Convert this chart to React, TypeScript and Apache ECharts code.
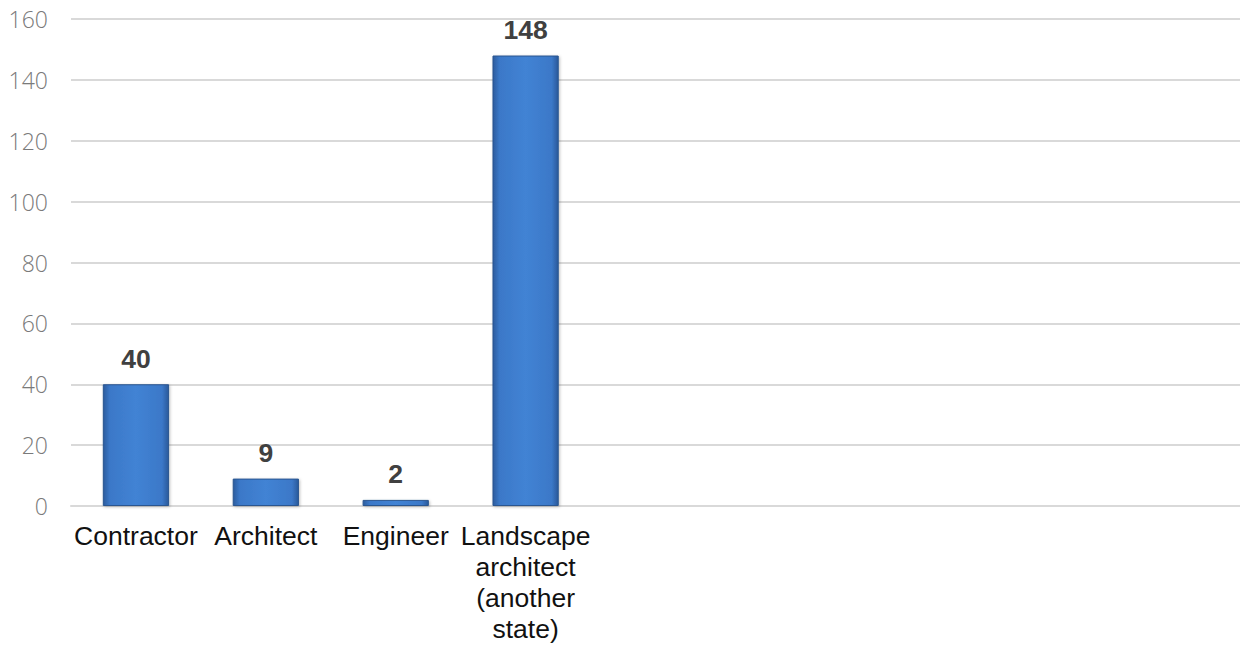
import React, { useEffect, useRef } from "react";
import * as echarts from "echarts";

// Nine category slots; only the first four carry values.
const categories: string[] = [
  "Contractor",
  "Architect",
  "Engineer",
  "Landscape\narchitect\n(another\nstate)",
  "",
  "",
  "",
  "",
  "",
];
const counts: (number | null)[] = [40, 9, 2, 148, null, null, null, null, null];
const yTicks = { min: 0, max: 160, interval: 20 };

export default function App() {
  const ref = useRef<HTMLDivElement>(null);

  useEffect(() => {
    if (!ref.current) return;
    const chart = echarts.init(ref.current, undefined, { renderer: "svg" });

    const barFill = new echarts.graphic.LinearGradient(0, 0, 1, 0, [
      { offset: 0, color: "#2c5c9e" },
      { offset: 0.1, color: "#3b78c8" },
      { offset: 0.5, color: "#4283d4" },
      { offset: 0.9, color: "#3b78c8" },
      { offset: 1, color: "#2a599a" },
    ]);

    chart.setOption({
      animation: false,
      grid: { left: 71, right: 0, top: 19, bottom: 141, containLabel: false },
      xAxis: {
        type: "category",
        data: categories,
        axisTick: { show: false },
        axisLine: { show: true, lineStyle: { color: "#d9d9d9", width: 2 } },
        axisLabel: {
          interval: 0,
          margin: 14,
          color: "#111111",
          fontFamily: "Liberation Sans, Arial, sans-serif",
          fontSize: 26.5,
          lineHeight: 31,
          align: "center",
        },
      },
      yAxis: {
        type: "value",
        min: yTicks.min,
        max: yTicks.max,
        interval: yTicks.interval,
        axisLine: { show: false },
        axisTick: { show: false },
        splitLine: { show: true, lineStyle: { color: "#d9d9d9", width: 2 } },
        axisLabel: {
          margin: 23,
          color: "#7a7a7a",
          fontFamily: "Open Sans, Lato, sans-serif",
          fontWeight: 300,
          fontSize: 23,
        },
      },
      series: [
        {
          type: "bar",
          data: counts,
          barCategoryGap: "49%",
          itemStyle: {
            color: barFill,
            borderColor: "#2a5690",
            borderWidth: 1,
            shadowColor: "rgba(0,0,0,0.25)",
            shadowBlur: 3,
            shadowOffsetX: 1,
            shadowOffsetY: 1,
          },
          label: {
            show: true,
            position: "top",
            distance: 12,
            color: "#404040",
            fontWeight: "bold",
            fontFamily: "Liberation Sans, Arial, sans-serif",
            fontSize: 26.5,
          },
        },
      ],
    });

    return () => chart.dispose();
  }, []);

  return (
    <div
      ref={ref}
      style={{ position: "fixed", left: 0, top: 0, width: 1240, height: 647, background: "#ffffff" }}
    />
  );
}
